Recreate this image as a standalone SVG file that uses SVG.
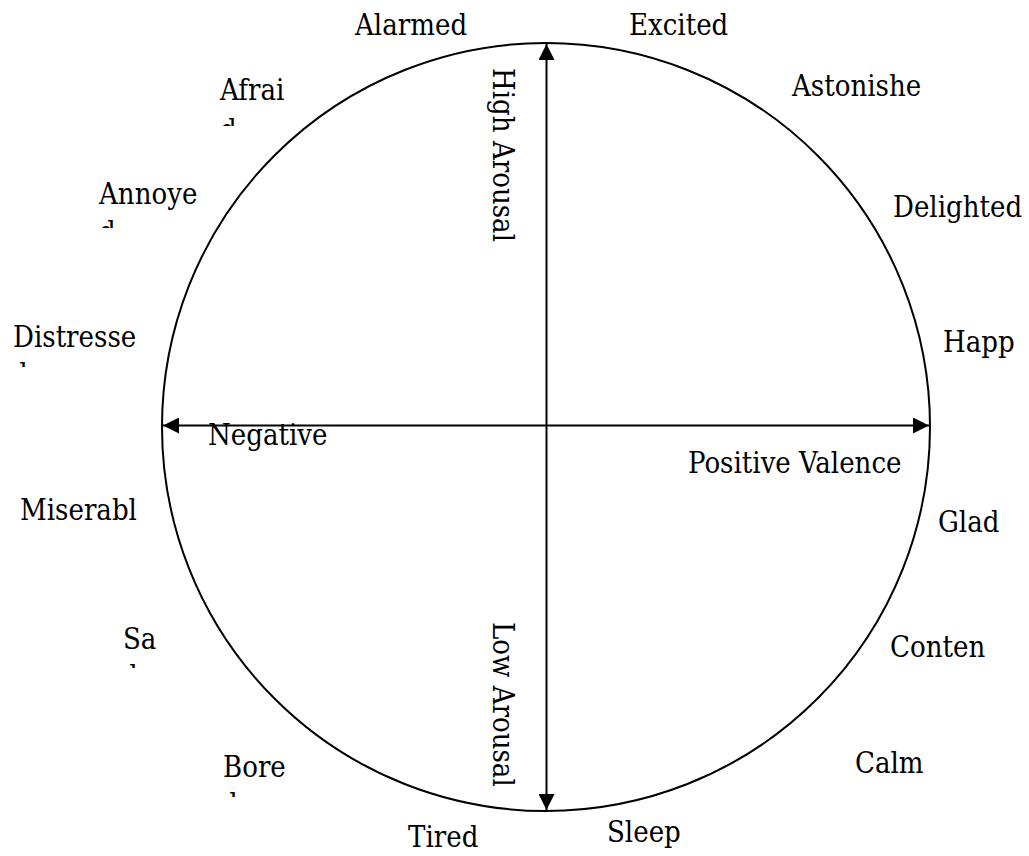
<svg xmlns="http://www.w3.org/2000/svg" width="1029" height="856" viewBox="0 0 1029 856">
  <style>
    .lbl { font-family: "DejaVu Serif Condensed", "DejaVu Serif", "Liberation Serif", serif; font-stretch: condensed; font-size: 29px; fill: #000; }
    .axis { stroke: #000; stroke-width: 2; fill: none; }
    .ring { stroke: #000; stroke-width: 2; fill: none; }
  </style>
  <defs>
    <marker id="tip" markerUnits="userSpaceOnUse" markerWidth="16" markerHeight="16" viewBox="0 0 15 15" refX="15" refY="7.5" orient="auto-start-reverse">
      <path d="M0,0 L15,7.5 L0,15 Z" fill="#000"/>
    </marker>
    <!-- text boxes that cut off their overflowing second line -->
    <clipPath id="clip-afraid"><rect x="200" y="60" width="120" height="66"/></clipPath>
    <clipPath id="clip-annoyed"><rect x="80" y="170" width="150" height="58"/></clipPath>
    <clipPath id="clip-distressed"><rect x="0" y="315" width="160" height="52"/></clipPath>
    <clipPath id="clip-sad"><rect x="110" y="620" width="80" height="48"/></clipPath>
    <clipPath id="clip-bored"><rect x="210" y="745" width="100" height="52"/></clipPath>
  </defs>

  <!-- valence / arousal circle -->
  <g id="circle">
    <circle class="ring" cx="546" cy="427" r="384"/>
  </g>

  <!-- axes -->
  <g id="connectors">
    <line id="valence-axis" class="axis" x1="163" y1="425.5" x2="929" y2="425.5" marker-start="url(#tip)" marker-end="url(#tip)"/>
    <line id="arousal-axis" class="axis" x1="546.5" y1="44" x2="546.5" y2="810" marker-start="url(#tip)" marker-end="url(#tip)"/>
  </g>

  <!-- axis captions -->
  <g id="high-arousal"><text class="lbl" transform="translate(493,68) rotate(90)">High Arousal</text></g>
  <g id="low-arousal"><text class="lbl" transform="translate(493,622) rotate(90)">Low Arousal</text></g>
  <g id="negative"><text class="lbl" x="208" y="445">Negative</text></g>
  <g id="positive-valence"><text class="lbl" x="688" y="473">Positive Valence</text></g>

  <!-- emotion words around the circle -->
  <g id="alarmed"><text class="lbl" x="355" y="35">Alarmed</text></g>
  <g id="excited"><text class="lbl" x="629" y="35">Excited</text></g>
  <g id="afraid" clip-path="url(#clip-afraid)">
    <text class="lbl" x="220" y="100">Afrai</text>
    <text class="lbl" x="220" y="140">d</text>
  </g>
  <g id="astonished"><text class="lbl" x="792" y="96">Astonishe</text></g>
  <g id="annoyed" clip-path="url(#clip-annoyed)">
    <text class="lbl" x="99" y="204">Annoye</text>
    <text class="lbl" x="99" y="242">d</text>
  </g>
  <g id="delighted"><text class="lbl" x="893" y="217">Delighted</text></g>
  <g id="distressed" clip-path="url(#clip-distressed)">
    <text class="lbl" x="13" y="347">Distresse</text>
    <text class="lbl" x="11" y="384">d</text>
  </g>
  <g id="happy"><text class="lbl" x="943" y="352">Happ</text></g>
  <g id="miserable"><text class="lbl" x="20" y="520">Miserabl</text></g>
  <g id="glad"><text class="lbl" x="938" y="532">Glad</text></g>
  <g id="sad" clip-path="url(#clip-sad)">
    <text class="lbl" x="123" y="649">Sa</text>
    <text class="lbl" x="121" y="686">d</text>
  </g>
  <g id="content"><text class="lbl" x="890" y="657">Conten</text></g>
  <g id="bored" clip-path="url(#clip-bored)">
    <text class="lbl" x="223" y="777">Bore</text>
    <text class="lbl" x="221" y="814">d</text>
  </g>
  <g id="calm"><text class="lbl" x="855" y="773">Calm</text></g>
  <g id="tired"><text class="lbl" x="408" y="847">Tired</text></g>
  <g id="sleepy"><text class="lbl" x="607" y="842">Sleep</text></g>
</svg>
